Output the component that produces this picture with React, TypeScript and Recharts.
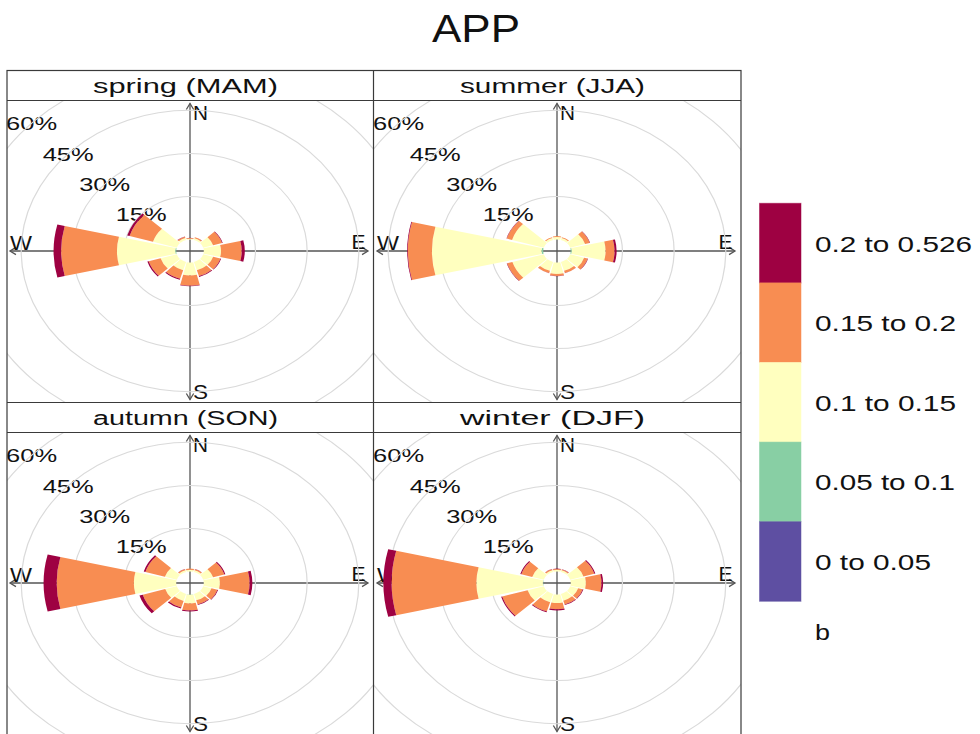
import React from 'react';
import { RadialBarChart, RadialBar, PolarGrid, PolarAngleAxis, PolarRadiusAxis } from 'recharts';

// ---- data ----
const directions = ['N', 'NNE', 'ENE', 'E', 'ESE', 'SSE', 'S', 'SSW', 'WSW', 'W', 'WNW', 'NNW'];
const binKeys = ['b1', 'b2', 'b3', 'b4', 'b5'];
const binLabels = ['0 to 0.05', '0.05 to 0.1', '0.1 to 0.15', '0.15 to 0.2', '0.2 to 0.526'];
const binColors = ['#5E4FA2', '#88CFA4', '#FFFFBF', '#F88D52', '#9E0142'];
const ringTicks = [15, 30, 45, 60];
const panelTitles = ['spring (MAM)', 'summer (JJA)', 'autumn (SON)', 'winter (DJF)'];
const chartTitle = 'APP';
const keyTitle = 'b';

// frequency (%) per direction, one array per concentration bin
const spring_b1 = [0, 0, 0, 0, 0, 0, 0, 0, 0, 0, 0, 0];
const spring_b2 = [0, 0, 0, 0, 0, 0, 0, 0, 0, 0.3, 0, 0];
const spring_b3 = [0.3, 0.6, 3.0, 5.0, 3.0, 3.0, 4.5, 3.0, 4.9, 16.9, 7.2, 0.7];
const spring_b4 = [0.25, 0.35, 2.7, 6.0, 2.2, 2.1, 3.6, 3.1, 3.6, 16.2, 7.1, 0.5];
const spring_b5 = [0.05, 0.05, 0.2, 0.9, 0.2, 0.3, 0.2, 0.3, 0.4, 2.2, 0.7, 0.1];

const summer_b1 = [0, 0, 0, 0, 0, 0, 0, 0, 0, 0, 0, 0];
const summer_b2 = [0, 0, 0, 0.3, 0, 0, 0, 0, 0, 0.5, 0, 0];
const summer_b3 = [0.9, 0.7, 4.5, 9.8, 4.2, 3.2, 4.0, 3.2, 9.5, 31.8, 9.6, 0.7];
const summer_b4 = [0.3, 0.3, 1.4, 2.6, 1.1, 0.8, 0.7, 0.8, 1.6, 7.0, 1.6, 0.3];
const summer_b5 = [0, 0, 0.1, 0.6, 0.1, 0.05, 0.05, 0.05, 0.1, 0.2, 0.1, 0];

const autumn_b1 = [0, 0, 0, 0, 0, 0, 0, 0, 0, 0, 0, 0];
const autumn_b2 = [0, 0, 0, 0, 0, 0, 0.1, 0, 0, 0, 0, 0];
const autumn_b3 = [0.6, 0.6, 3.0, 4.7, 2.5, 2.3, 3.0, 2.5, 3.5, 12.3, 3.6, 0.6];
const autumn_b4 = [0.4, 0.4, 3.4, 8.6, 1.8, 1.5, 2.5, 2.4, 6.8, 22.4, 5.9, 0.4];
const autumn_b5 = [0.05, 0.05, 0.3, 0.8, 0.2, 0.2, 0.3, 0.4, 1.0, 3.8, 0.5, 0.05];

const winter_b1 = [0, 0, 0, 0, 0, 0, 0, 0, 0, 0, 0, 0];
const winter_b2 = [0, 0, 0, 0, 0, 0, 0, 0, 0, 0.1, 0, 0];
const winter_b3 = [0.6, 0.6, 4.0, 4.4, 2.4, 2.4, 3.0, 3.0, 4.9, 19.3, 3.5, 0.6];
const winter_b4 = [0.3, 0.3, 3.3, 4.5, 1.4, 1.4, 2.1, 3.3, 7.7, 24.6, 3.3, 0.4];
const winter_b5 = [0.1, 0.1, 0.3, 0.5, 0.2, 0.2, 0.5, 0.3, 0.3, 2.4, 0.3, 0.05];

const seasonBins = [
  [spring_b1, spring_b2, spring_b3, spring_b4, spring_b5],
  [summer_b1, summer_b2, summer_b3, summer_b4, summer_b5],
  [autumn_b1, autumn_b2, autumn_b3, autumn_b4, autumn_b5],
  [winter_b1, winter_b2, winter_b3, winter_b4, winter_b5],
];

function buildRows(bins: number[][]) {
  return directions.map((d, i) => {
    const row: any = { dir: d };
    binKeys.forEach((k, j) => {
      row[k] = bins[j][i];
    });
    return row;
  });
}

// ---- layout ----
const K = 1.2; // horizontal stretch of the original figure
const INNER = 11.5;
const OUTER = 183.7;
const RMAX = 60;
const PLOT_H = 302;
const FONT = '"Liberation Sans", Arial, Helvetica, sans-serif';
const AXIS_COL = '#555555';
const FRAME_COL = '#3a3a3a';

const panels = [
  { left: 7, top: 100, width: 366 },
  { left: 373, top: 100, width: 368 },
  { left: 7, top: 432, width: 366 },
  { left: 373, top: 432, width: 368 },
];

const rOf = (v: number) => INNER + (v * (OUTER - INNER)) / RMAX;

function RoseChart({ rows, width }: { rows: any[]; width: number }) {
  const w = width / K;
  return (
    <RadialBarChart
      width={w}
      height={PLOT_H}
      cx={w / 2}
      cy={PLOT_H / 2}
      innerRadius={INNER}
      outerRadius={OUTER}
      data={rows}
      layout="centric"
      startAngle={75}
      endAngle={-285}
      barCategoryGap="5%"
      margin={{ top: 0, right: 0, bottom: 0, left: 0 }}
    >
      <PolarGrid
        gridType="circle"
        radialLines={false}
        polarAngles={[]}
        polarRadius={ringTicks.map(rOf)}
        stroke="#DADADA"
        strokeWidth={1}
      />
      <PolarAngleAxis type="category" dataKey="dir" tick={false} axisLine={false} tickLine={false} />
      <PolarRadiusAxis type="number" domain={[0, RMAX]} tick={false} axisLine={false} tickLine={false} />
      {binKeys.map((k, j) => (
        <RadialBar key={k} dataKey={k} stackId="s" fill={binColors[j]} isAnimationActive={false} />
      ))}
    </RadialBarChart>
  );
}

function Arrow({ x1, y1, x2, y2 }: { x1: number; y1: number; x2: number; y2: number }) {
  // open arrowheads on both ends
  const len = 7;
  const half = 0.55;
  const head = (tx: number, ty: number, fx: number, fy: number) => {
    const a = Math.atan2(ty - fy, tx - fx);
    const p1 = [tx - len * Math.cos(a - half), ty - len * Math.sin(a - half)];
    const p2 = [tx - len * Math.cos(a + half), ty - len * Math.sin(a + half)];
    return `M${p1[0]},${p1[1]} L${tx},${ty} L${p2[0]},${p2[1]}`;
  };
  return (
    <g stroke={AXIS_COL} strokeWidth={1.3} fill="none">
      <line x1={x1} y1={y1} x2={x2} y2={y2} />
      <path d={head(x1, y1, x2, y2)} />
      <path d={head(x2, y2, x1, y1)} />
    </g>
  );
}

export default function App() {
  const legendTop = 203.3;
  const legendH = 79.6;
  const legendWidths = [116, 140, 141, 141, 157];
  return (
    <div
      style={{
        position: 'absolute',
        left: 0,
        top: 0,
        width: 980,
        height: 734,
        overflow: 'hidden',
        background: '#ffffff',
      }}
    >
      {/* underlay: compass axes and labels (drawn beneath the roses) */}
      <svg width={980} height={734} style={{ position: 'absolute', left: 0, top: 0 }} fontFamily={FONT}>
        {panels.map((p, i) => {
          const cx = p.left + p.width / 2;
          const cy = p.top + PLOT_H / 2;
          return (
            <g key={i}>
              <Arrow x1={cx} y1={cy + 148.5} x2={cx} y2={cy - 147.5} />
              <Arrow x1={cx - 180} y1={cy} x2={cx + 178} y2={cy} />
              <g fill="#111">
                <text x={cx + 3} y={cy - 131} fontSize={21} textLength={15} lengthAdjust="spacingAndGlyphs">
                  N
                </text>
                <text x={cx + 161.5} y={cy - 2.5} fontSize={21} textLength={14} lengthAdjust="spacingAndGlyphs">
                  E
                </text>
                <text x={cx - 180} y={cy - 1} fontSize={21} textLength={22} lengthAdjust="spacingAndGlyphs">
                  W
                </text>
                <text x={cx + 3} y={cy + 148} fontSize={21} textLength={15} lengthAdjust="spacingAndGlyphs">
                  S
                </text>
                {ringTicks.map((v) => {
                  const r = rOf(v) * Math.SQRT1_2;
                  return (
                    <text
                      key={v}
                      x={cx - r * K - 2.5}
                      y={cy - r + 9}
                      fontSize={19}
                      textAnchor="middle"
                      textLength={51}
                      lengthAdjust="spacingAndGlyphs"
                    >
                      {`${v}%`}
                    </text>
                  );
                })}
              </g>
            </g>
          );
        })}
      </svg>

      {/* the roses */}
      {panels.map((p, i) => (
        <div
          key={i}
          style={{
            position: 'absolute',
            left: p.left,
            top: p.top,
            width: p.width,
            height: PLOT_H,
            overflow: 'hidden',
          }}
        >
          <div style={{ width: p.width / K, height: PLOT_H, transform: `scaleX(${K})`, transformOrigin: '0 0' }}>
            <RoseChart rows={buildRows(seasonBins[i])} width={p.width} />
          </div>
        </div>
      ))}

      {/* overlay: title, frame, strips, key */}
      <svg
        width={980}
        height={734}
        style={{ position: 'absolute', left: 0, top: 0, pointerEvents: 'none' }}
        fontFamily={FONT}
      >
        <text x={476} y={41.5} fontSize={39} textAnchor="middle" textLength={88} lengthAdjust="spacingAndGlyphs" fill="#111">
          {chartTitle}
        </text>

        <g stroke={FRAME_COL} strokeWidth={1.2} fill="none">
          <rect x={7} y={70.5} width={734} height={700} />
          <line x1={7} y1={100.5} x2={741} y2={100.5} />
          <line x1={7} y1={402.5} x2={741} y2={402.5} />
          <line x1={7} y1={432.5} x2={741} y2={432.5} />
          <line x1={373.5} y1={70} x2={373.5} y2={734} />
        </g>
        {panels.map((p, i) => {
          const cx = p.left + p.width / 2;
          return (
            <text
              key={i}
              x={cx - 4.5}
              y={p.top - 7.5}
              fontSize={20}
              textAnchor="middle"
              textLength={185}
              lengthAdjust="spacingAndGlyphs"
              fill="#111"
            >
              {panelTitles[i]}
            </text>
          );
        })}

        {binKeys
          .map((k, j) => j)
          .reverse()
          .map((j, idx) => {
            const y = legendTop + idx * legendH;
            return (
              <g key={j}>
                <rect x={759.5} y={y} width={41.5} height={legendH} fill={binColors[j]} stroke={binColors[j]} strokeOpacity={0.5} />
                <text
                  x={815}
                  y={y + legendH / 2 + 8.5}
                  fontSize={22}
                  fill="#111"
                  textLength={legendWidths[j]}
                  lengthAdjust="spacingAndGlyphs"
                >
                  {binLabels[j]}
                </text>
              </g>
            );
          })}
        <text x={815} y={640} fontSize={22} fill="#111" textLength={15} lengthAdjust="spacingAndGlyphs">
          {keyTitle}
        </text>
      </svg>
    </div>
  );
}
